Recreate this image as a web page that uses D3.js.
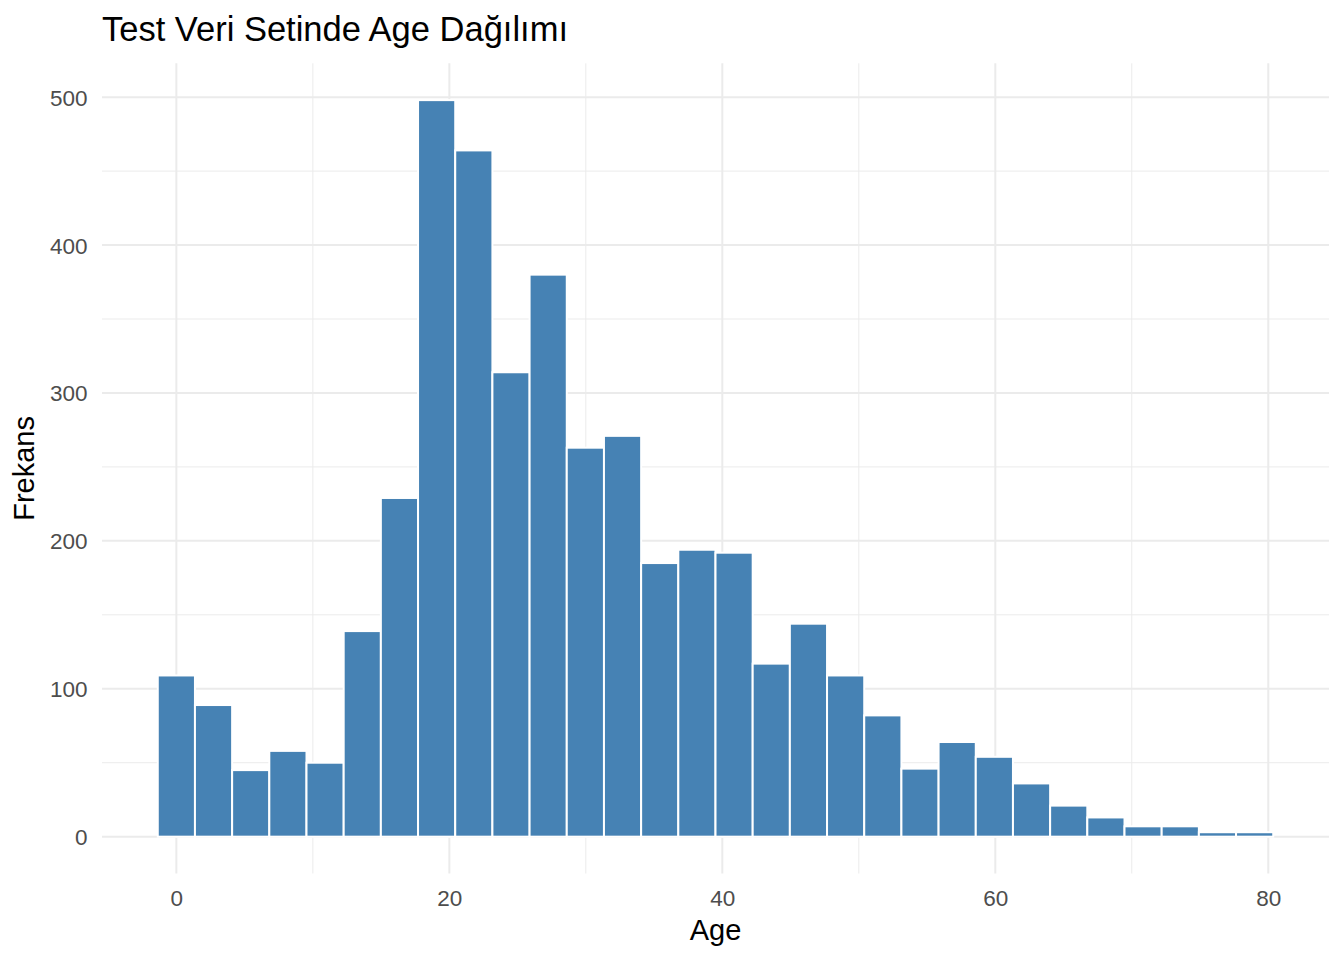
<!DOCTYPE html>
<html>
<head>
<meta charset="utf-8">
<script src="https://cdn.jsdelivr.net/npm/d3@7"></script>
<style>
  body { margin: 0; background: #ffffff; }
  svg { display: block; font-family: "Liberation Sans", Arial, sans-serif; }
</style>
</head>
<body>
<div id="chart-area"></div>
<script>

// histogram bins (Age)
var binEdges = [-1.362, 1.362, 4.086, 6.810, 9.534, 12.259, 14.983, 17.707, 20.431, 23.155,
    25.879, 28.603, 31.328, 34.052, 36.776, 39.500, 42.224, 44.948, 47.672, 50.397,
    53.121, 55.845, 58.569, 61.293, 64.017, 66.741, 69.466, 72.190, 74.914, 77.638, 80.362];
var counts = [109, 89, 45, 58, 50, 139, 229, 498, 464, 314, 380, 263, 271, 185, 194,
    192, 117, 144, 109, 82, 46, 64, 54, 36, 21, 13, 7, 7, 3, 3];

var xTicks = [0, 20, 40, 60, 80];
var xMinor = [10, 30, 50, 70];
var yTicks = [0, 100, 200, 300, 400, 500];
var yMinor = [50, 150, 250, 350, 450];

var titleText = "Test Veri Setinde Age Dağılımı";
var xLabel = "Age";
var yLabel = "Frekans";


Histogram = function(_parentElement){
    this.parentElement = _parentElement;
    this.displayData = [];
    this.initVis();
};

Histogram.prototype.initVis = function(){
    var vis = this;

    vis.margin = { top: 63.3, right: 15, bottom: 86.5, left: 102 };
    vis.width = 1344 - vis.margin.left - vis.margin.right;
    vis.height = 960 - vis.margin.top - vis.margin.bottom;

    vis.root = d3.select("#" + vis.parentElement).append("svg")
        .attr("width", 1344)
        .attr("height", 960);

    vis.svg = vis.root.append("g")
        .attr("transform", "translate(" + vis.margin.left + "," + vis.margin.top + ")");

    // ggplot style 5% expansion on both axes
    var lo = binEdges[0], hi = binEdges[binEdges.length - 1];
    var xPad = (hi - lo) * 0.05;
    vis.x = d3.scaleLinear()
        .domain([lo - xPad, hi + xPad])
        .range([0, vis.width]);

    var yMax = d3.max(counts);
    vis.y = d3.scaleLinear()
        .domain([-yMax * 0.05, yMax * 1.05])
        .range([vis.height, 0]);

    vis.wrangleData();
};

Histogram.prototype.wrangleData = function(){
    var vis = this;
    vis.displayData = counts.map(function(c, i){
        return { x0: binEdges[i], x1: binEdges[i + 1], count: c };
    });
    vis.updateVis();
};

Histogram.prototype.updateVis = function(){
    var vis = this;

    // grid - minor first, then major
    var grid = vis.svg.append("g").attr("class", "grid");
    grid.selectAll(".ymin").data(yMinor).enter().append("line")
        .attr("x1", 0).attr("x2", vis.width)
        .attr("y1", function(d){ return vis.y(d); })
        .attr("y2", function(d){ return vis.y(d); })
        .attr("stroke", "#EBEBEB").attr("stroke-width", 1);
    grid.selectAll(".xmin").data(xMinor).enter().append("line")
        .attr("y1", 0).attr("y2", vis.height)
        .attr("x1", function(d){ return vis.x(d); })
        .attr("x2", function(d){ return vis.x(d); })
        .attr("stroke", "#EBEBEB").attr("stroke-width", 1);
    grid.selectAll(".ymaj").data(yTicks).enter().append("line")
        .attr("x1", 0).attr("x2", vis.width)
        .attr("y1", function(d){ return vis.y(d); })
        .attr("y2", function(d){ return vis.y(d); })
        .attr("stroke", "#EBEBEB").attr("stroke-width", 2);
    grid.selectAll(".xmaj").data(xTicks).enter().append("line")
        .attr("y1", 0).attr("y2", vis.height)
        .attr("x1", function(d){ return vis.x(d); })
        .attr("x2", function(d){ return vis.x(d); })
        .attr("stroke", "#EBEBEB").attr("stroke-width", 2);

    // bars
    vis.svg.selectAll(".bar")
        .data(vis.displayData)
        .enter()
        .append("rect")
        .attr("class", "bar")
        .attr("x", function(d){ return vis.x(d.x0); })
        .attr("width", function(d){ return vis.x(d.x1) - vis.x(d.x0); })
        .attr("y", function(d){ return vis.y(d.count); })
        .attr("height", function(d){ return vis.y(0) - vis.y(d.count); })
        .attr("fill", "#4682B4")
        .attr("stroke", "#ffffff")
        .attr("stroke-width", 2);

    // axes (no lines / ticks, theme_minimal)
    vis.xAxis = d3.axisBottom(vis.x).tickValues(xTicks).tickSize(0).tickPadding(0);
    vis.yAxis = d3.axisLeft(vis.y).tickValues(yTicks).tickSize(0).tickPadding(0);

    var xg = vis.svg.append("g")
        .attr("class", "x-axis axis")
        .attr("transform", "translate(0," + vis.height + ")")
        .call(vis.xAxis);
    xg.select(".domain").remove();
    xg.selectAll("text")
        .attr("dy", null)
        .attr("y", 32.2)
        .attr("fill", "#4D4D4D")
        .style("font-size", "22.5px")
        .style("font-family", "'Liberation Sans', Arial, sans-serif");

    var yg = vis.svg.append("g")
        .attr("class", "y-axis axis")
        .call(vis.yAxis);
    yg.select(".domain").remove();
    yg.selectAll("text")
        .attr("dy", null)
        .attr("x", -14.5)
        .attr("y", 8)
        .attr("fill", "#4D4D4D")
        .style("font-size", "22.5px")
        .style("font-family", "'Liberation Sans', Arial, sans-serif");

    // titles
    vis.root.append("text")
        .attr("x", 102)
        .attr("y", 40.7)
        .attr("fill", "#000")
        .style("font-size", "34.5px")
        .text(titleText);

    vis.root.append("text")
        .attr("x", vis.margin.left + vis.width / 2)
        .attr("y", 940)
        .attr("text-anchor", "middle")
        .attr("fill", "#000")
        .style("font-size", "29px")
        .text(xLabel);

    vis.root.append("text")
        .attr("transform", "translate(34," + (vis.margin.top + vis.height / 2) + ") rotate(-90)")
        .attr("text-anchor", "middle")
        .attr("fill", "#000")
        .style("font-size", "29px")
        .text(yLabel);
};

new Histogram("chart-area");
</script>
</body>
</html>
